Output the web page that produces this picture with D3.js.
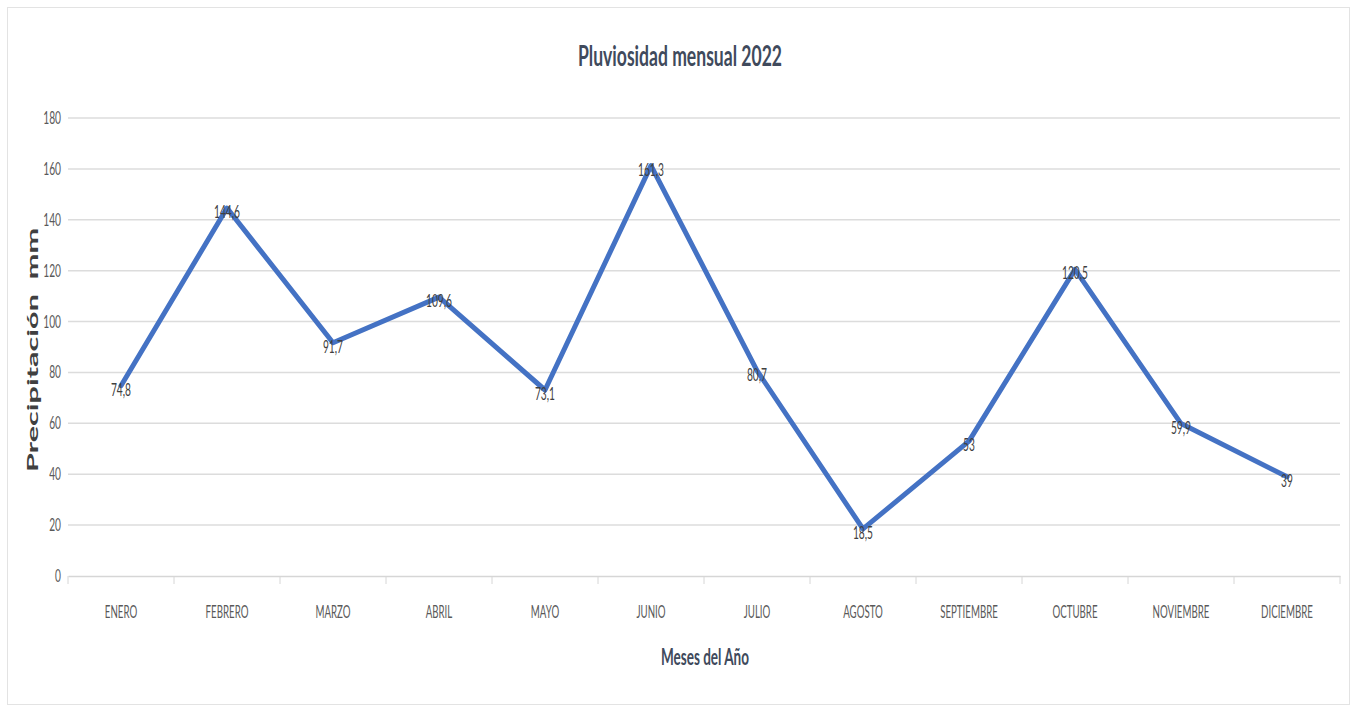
<!DOCTYPE html>
<html>
<head>
<meta charset="utf-8">
<script src="https://cdn.jsdelivr.net/npm/d3@7"></script>
<style>
  html, body { margin: 0; padding: 0; background: #fff; }
  svg { display: block; }
  text { font-family: Lato, "Open Sans", sans-serif; }
</style>
</head>
<body>
<svg id="chart" width="1357" height="710"></svg>
<script>
// Monthly rainfall, 2022
const months = ["ENERO", "FEBRERO", "MARZO", "ABRIL", "MAYO", "JUNIO",
                "JULIO", "AGOSTO", "SEPTIEMBRE", "OCTUBRE", "NOVIEMBRE", "DICIEMBRE"];
const rainfall = [74.8, 144.6, 91.7, 109.6, 73.1, 161.3, 80.7, 18.5, 53, 120.5, 59.9, 39];
const yTicks = [0, 20, 40, 60, 80, 100, 120, 140, 160, 180];

// squeeze text horizontally to a fraction of its natural width
function condense(sel, factor) {
  sel.each(function () {
    const w = this.getComputedTextLength();
    this.setAttribute("textLength", (w * factor).toFixed(1));
    this.setAttribute("lengthAdjust", "spacingAndGlyphs");
  });
}

function draw() {
  const svg = d3.select("#chart");
  const W = 1357, H = 710;
  const plot = { left: 68, right: 1340, top: 118, bottom: 576 };

  // chart frame
  svg.append("rect")
    .attr("x", 7.5).attr("y", 7.5)
    .attr("width", W - 15).attr("height", H - 13)
    .attr("fill", "#fff").attr("stroke", "#e3e3e3").attr("stroke-width", 1);

  const x = d3.scaleBand().domain(months).range([plot.left, plot.right]).padding(0);
  const y = d3.scaleLinear().domain([0, 180]).range([plot.bottom, plot.top]);

  // horizontal gridlines
  svg.append("g")
    .selectAll("line")
    .data(yTicks.filter(d => d > 0))
    .join("line")
    .attr("x1", plot.left).attr("x2", plot.right)
    .attr("y1", d => y(d)).attr("y2", d => y(d))
    .attr("stroke", "#dcdcdc").attr("stroke-width", 1.5);

  // y axis labels
  const yAxis = svg.append("g")
    .attr("transform", `translate(${plot.left},0)`)
    .call(d3.axisLeft(y).tickValues(yTicks).tickSize(0).tickPadding(7));
  yAxis.select(".domain").remove();
  yAxis.selectAll("text")
    .attr("font-family", "Lato, sans-serif")
    .attr("font-size", 17)
    .attr("fill", "#595959")
    .call(condense, 0.6);

  // x axis: baseline with tick marks between categories
  const xAxis = svg.append("g")
    .attr("transform", `translate(0,${plot.bottom})`)
    .call(d3.axisBottom(x).tickSize(0).tickPadding(30));
  xAxis.select(".domain").attr("stroke", "#d6d6d6").attr("stroke-width", 1.5);
  xAxis.selectAll("text")
    .attr("font-family", "Lato, sans-serif")
    .attr("font-size", 17)
    .attr("fill", "#595959")
    .call(condense, 0.57);
  svg.append("g")
    .selectAll("line")
    .data(d3.range(months.length + 1))
    .join("line")
    .attr("x1", i => plot.left + i * x.step())
    .attr("x2", i => plot.left + i * x.step())
    .attr("y1", plot.bottom).attr("y2", plot.bottom + 8)
    .attr("stroke", "#d6d6d6").attr("stroke-width", 1);

  // rainfall line
  const line = d3.line()
    .x((d, i) => x(months[i]) + x.bandwidth() / 2)
    .y(d => y(d));
  svg.append("path")
    .datum(rainfall)
    .attr("d", line)
    .attr("fill", "none")
    .attr("stroke", "#4472c4")
    .attr("stroke-width", 5)
    .attr("stroke-linejoin", "round")
    .attr("stroke-linecap", "round");

  // value labels, decimal comma
  svg.append("g")
    .selectAll("text")
    .data(rainfall)
    .join("text")
    .attr("x", (d, i) => x(months[i]) + x.bandwidth() / 2)
    .attr("y", d => y(d) + 4)
    .attr("dy", "0.35em")
    .attr("text-anchor", "middle")
    .attr("font-size", 17)
    .attr("fill", "#404040")
    .text(d => String(d).replace(".", ","))
    .call(condense, 0.6);

  // title
  svg.append("text")
    .attr("x", 680).attr("y", 66)
    .attr("text-anchor", "middle")
    .attr("font-size", 28)
    .attr("font-weight", "bold")
    .attr("fill", "#404a5c")
    .attr("textLength", 204)
    .attr("lengthAdjust", "spacingAndGlyphs")
    .text("Pluviosidad mensual 2022");

  // axis titles
  svg.append("text")
    .attr("x", 705).attr("y", 665)
    .attr("text-anchor", "middle")
    .attr("font-size", 23)
    .attr("font-weight", "bold")
    .attr("fill", "#404a5c")
    .attr("textLength", 88)
    .attr("lengthAdjust", "spacingAndGlyphs")
    .text("Meses del Año");

  svg.append("text")
    .attr("transform", "translate(38,350) rotate(-90)")
    .attr("text-anchor", "middle")
    .attr("font-family", "'DejaVu Sans', sans-serif")
    .attr("font-size", 16)
    .attr("font-weight", "bold")
    .attr("fill", "#404040")
    .attr("xml:space", "preserve")
    .attr("textLength", 244)
    .attr("lengthAdjust", "spacingAndGlyphs")
    .text("Precipitación  mm");
}

document.fonts.ready.then(draw);
</script>
</body>
</html>
